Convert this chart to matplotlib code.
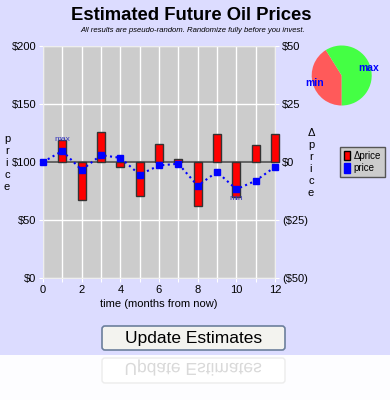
import numpy as np
import matplotlib
matplotlib.use("Agg")
import matplotlib.pyplot as plt
from matplotlib.patches import Rectangle, FancyBboxPatch, PathPatch
from matplotlib.textpath import TextPath
from matplotlib.font_manager import FontProperties
from matplotlib.transforms import Affine2D

plt.rcParams['font.family'] = ['Liberation Sans', 'DejaVu Sans']

# data
months = [0, 1, 2, 3, 4, 5, 6, 7, 8, 9, 10, 11, 12]
price = [100, 109.5, 93.1, 105.9, 103.6, 89.1, 97.0, 98.5, 79.5, 91.5, 76.5, 83.8, 95.8]
delta_months = [1, 2, 3, 4, 5, 6, 7, 8, 9, 10, 11, 12]
delta = [9.5, -16.4, 12.8, -2.3, -14.5, 7.9, 1.5, -19.0, 12.0, -15.0, 7.3, 12.0]
price_ticks = [0, 50, 100, 150, 200]
price_labels = ['$0', '$50', '$100', '$150', '$200']
delta_ticks = [-50, -25, 0, 25, 50]
delta_labels = ['($50)', '($25)', '$0', '$25', '$50']
pie_labels = ['min', 'max']

bg = '#dcdcff'
fig = plt.figure(figsize=(3.9, 4), dpi=100, facecolor=bg)

# overlay in pixel coords for background pieces and the button
ov = fig.add_axes([0, 0, 1, 1], zorder=-1)
ov.set_xlim(0, 390)
ov.set_ylim(400, 0)
ov.axis('off')
ov.add_patch(Rectangle((0, 355), 390, 45, color='#fdfdff', lw=0))
ov.add_patch(FancyBboxPatch((102, 326), 183, 24, boxstyle='round,pad=0,rounding_size=3',
                            fc='#f3f3ef', ec='#6c7f9c', lw=1.2))
ov.text(193.5, 338.5, 'Update Estimates', ha='center', va='center', fontsize=12.5, color='black')
# reflection of the button
ov.add_patch(FancyBboxPatch((102, 358), 183, 25, boxstyle='round,pad=0,rounding_size=3',
                            fc='#ffffff', ec='#ececec', lw=1.0))
tp = TextPath((0, 0), 'Update Estimates', size=17.4, prop=FontProperties(family='Liberation Sans'))
ext = tp.get_extents()
tr = Affine2D().translate(193.5 - (ext.x0 + ext.x1) / 2, 363)
ov.add_patch(PathPatch(tr.transform_path(tp), fc='#d9d9d9', ec='none'))

# main plot
ax = fig.add_axes([43 / 390, 1 - 278 / 400, 232 / 390, 232 / 400])
ax.set_facecolor('#cccccc')
ax.set_xlim(0, 12)
ax.set_ylim(0, 200)
ax.set_xticks(months)
ax.set_xticklabels([str(m) if m % 2 == 0 else '' for m in months], fontsize=8)
ax.set_yticks(price_ticks)
ax.set_yticklabels(price_labels, fontsize=8)
ax.grid(color='white', lw=1)
ax.set_axisbelow(True)
ax.tick_params(length=3, color='white', pad=2)
for s in ax.spines.values():
    s.set_color('#eeeeee')
ax.set_xlabel('time (months from now)', fontsize=8, labelpad=3)

ax2 = ax.twinx()
ax2.set_ylim(-50, 50)
ax2.set_yticks(delta_ticks)
ax2.set_yticklabels(delta_labels, fontsize=8)
ax2.tick_params(length=3, color='white', pad=2)
for s in ax2.spines.values():
    s.set_visible(False)
ax2.axhline(0, color='#666666', lw=1.5, zorder=1)
ax2.bar(delta_months, delta, width=0.4, color='#ff0000', edgecolor='#333333', lw=1, zorder=2, clip_on=False)

ax3 = ax.twinx()
ax3.set_ylim(0, 200)
ax3.axis('off')
ax3.plot(months, price, ':', color='blue', lw=1.5, marker='s', ms=5, zorder=3, clip_on=False)
imax = int(np.argmax(price))
imin = int(np.argmin(price))
ax3.annotate('max', (months[imax], price[imax]), xytext=(0, 6), textcoords='offset points',
             ha='center', va='bottom', fontsize=6, color='#3333bb')
ax3.annotate('min', (months[imin], price[imin]), xytext=(0, -4), textcoords='offset points',
             ha='center', va='top', fontsize=6, color='#3333bb')

# axis titles stacked vertically
fig.text(7 / 390, 1 - 163 / 400, 'p\nr\ni\nc\ne', ha='center', va='center', fontsize=8, linespacing=1.25)
fig.text(311 / 390, 1 - 163 / 400, 'Δ\np\nr\ni\nc\ne', ha='center', va='center', fontsize=8, linespacing=1.25)

# titles
fig.text(191 / 390, 1 - 15 / 400, 'Estimated Future Oil Prices', ha='center', va='center',
         fontsize=13.3, fontweight='bold')
fig.text(193 / 390, 1 - 30 / 400, 'All results are pseudo-random. Randomize fully before you invest.',
         ha='center', va='center', fontsize=5.6, style='italic')

# legend
handles = [Rectangle((0, 0), 1, 1, fc='#ff0000', ec='black'),
           Rectangle((0, 0), 1, 1, fc='#0000ff', ec='#0000ff')]
leg = fig.legend(handles, ['Δprice', 'price'], loc='center', bbox_to_anchor=(362.5 / 390, 1 - 162 / 400),
                 fontsize=7, fancybox=False, framealpha=1, handlelength=0.6, handleheight=1.1,
                 handletextpad=0.4, borderpad=0.4, labelspacing=0.3)
leg.get_frame().set_facecolor('#cccccc')
leg.get_frame().set_edgecolor('#555555')

# min/max pie
axp = fig.add_axes([311.7 / 390, 1 - 105.5 / 400, 60 / 390, 60 / 400])
wedges, texts = axp.pie([min(price), max(price)], labels=pie_labels, colors=['#ff5a5a', '#44ff44'],
                        startangle=122, labeldistance=0.95,
                        textprops=dict(fontsize=7.5, color='blue', fontweight='bold'))
for t in texts:
    t.set_ha('center')
axp.set_xlim(-1, 1)
axp.set_ylim(-1, 1)
axp.set_aspect('equal')

fig.savefig('out.png', dpi=100, facecolor=bg)
